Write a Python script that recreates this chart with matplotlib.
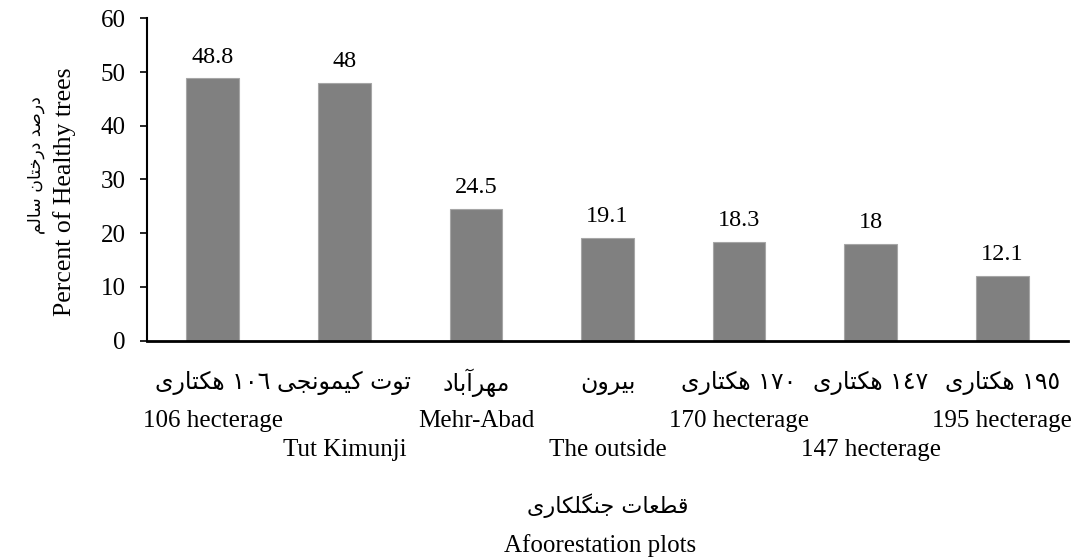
import matplotlib
matplotlib.use("Agg")
import matplotlib.pyplot as plt
import matplotlib.transforms as mtransforms

# ---------------- data ----------------
values = [48.8, 48, 24.5, 19.1, 18.3, 18, 12.1]
value_labels = ["48.8", "48", "24.5", "19.1", "18.3", "18", "12.1"]
labels_fa = ["١٠٦ هکتاری", "توت کیمونجی", "مهرآباد", "بیرون",
             "١٧٠ هکتاری", "١٤٧ هکتاری", "١٩٥ هکتاری"]
labels_en = ["106 hecterage", "Tut Kimunji", "Mehr-Abad", "The outside",
             "170 hecterage", "147 hecterage", "195 hecterage"]
yticks = [0, 10, 20, 30, 40, 50, 60]
ylabel_fa = "درصد درختان سالم"
ylabel_en = "Percent of Healthy trees"
xlabel_fa = "قطعات جنگلکاری"
xlabel_en = "Afoorestation plots"

# ---------------- minimal Persian shaping (presentation forms) ----------------
FORMS = {
    "ه": ("\uFEE9", "\uFEEA", "\uFEEB", "\uFEEC"),
    "ک": ("\uFB8E", "\uFB8F", "\uFB90", "\uFB91"),
    "ت": ("\uFE95", "\uFE96", "\uFE97", "\uFE98"),
    "ا": ("\uFE8D", "\uFE8E"),
    "ر": ("\uFEAD", "\uFEAE"),
    "ی": ("\uFBFC", "\uFBFD", "\uFBFE", "\uFBFF"),
    "و": ("\uFEED", "\uFEEE"),
    "م": ("\uFEE1", "\uFEE2", "\uFEE3", "\uFEE4"),
    "ن": ("\uFEE5", "\uFEE6", "\uFEE7", "\uFEE8"),
    "ج": ("\uFE9D", "\uFE9E", "\uFE9F", "\uFEA0"),
    "آ": ("\uFE81", "\uFE82"),
    "ب": ("\uFE8F", "\uFE90", "\uFE91", "\uFE92"),
    "د": ("\uFEA9", "\uFEAA"),
    "ص": ("\uFEB9", "\uFEBA", "\uFEBB", "\uFEBC"),
    "خ": ("\uFEA5", "\uFEA6", "\uFEA7", "\uFEA8"),
    "س": ("\uFEB1", "\uFEB2", "\uFEB3", "\uFEB4"),
    "ل": ("\uFEDD", "\uFEDE", "\uFEDF", "\uFEE0"),
    "ق": ("\uFED5", "\uFED6", "\uFED7", "\uFED8"),
    "ط": ("\uFEC1", "\uFEC2", "\uFEC3", "\uFEC4"),
    "ع": ("\uFEC9", "\uFECA", "\uFECB", "\uFECC"),
    "گ": ("\uFB92", "\uFB93", "\uFB94", "\uFB95"),
}


def shape_fa(s):
    out = []
    for i, c in enumerate(s):
        if c not in FORMS:
            out.append(c)
            continue
        prev = s[i - 1] if i > 0 else None
        nxt = s[i + 1] if i + 1 < len(s) else None
        jp = prev in FORMS and len(FORMS[prev]) == 4
        jn = nxt in FORMS and len(FORMS[c]) == 4
        f = FORMS[c]
        if jp and jn:
            out.append(f[3])
        elif jp:
            out.append(f[1])
        elif jn:
            out.append(f[2])
        else:
            out.append(f[0])
    # visual order: reverse, keeping digit runs left-to-right
    tokens = []
    for c in out:
        if c.isdigit() and tokens and tokens[-1][0].isdigit():
            tokens[-1] += c
        else:
            tokens.append(c)
    return "".join(reversed(tokens))


SERIF = ["Liberation Serif", "DejaVu Serif"]
FA = ["DejaVu Sans"]

W, H = 1086, 560
fig = plt.figure(figsize=(W / 100, H / 100), dpi=100)
ax = fig.add_axes([147 / W, 1 - 340.7 / H, (1068 - 147) / W, (340.7 - 18.3) / H])

x = list(range(len(values)))
ax.bar(x, values, width=0.4, color="#808080", edgecolor="#a6a6a6", linewidth=0.8)
ax.set_xlim(-0.5, len(values) - 0.5)
ax.set_ylim(0, 60)
ax.set_yticks(yticks)
ax.set_yticklabels([str(t) for t in yticks], family=SERIF, fontsize=18)
ax.set_xticks([])
ax.tick_params(axis="y", direction="out", length=5, width=1.2, pad=10.5)
for s in ("top", "right"):
    ax.spines[s].set_visible(False)
ax.spines["left"].set_linewidth(1.5)
ax.spines["bottom"].set_linewidth(2)

for xi, v, t in zip(x, values, value_labels):
    ax.annotate(t, (xi, v), xytext=(0, 11.5), textcoords="offset points",
                ha="center", va="baseline", family=SERIF, fontsize=17.5)

tr = mtransforms.blended_transform_factory(ax.transData, fig.transFigure)
for i, (fa, en) in enumerate(zip(labels_fa, labels_en)):
    ax.text(i, 1 - 383 / H, shape_fa(fa), transform=tr, ha="center", va="center",
            family=FA, fontsize=17)
    yy = 427 if i % 2 == 0 else 456
    ax.text(i, 1 - yy / H, en, transform=tr, ha="center", va="baseline",
            family=SERIF, fontsize=18)

fig.text(36 / W, 1 - 165 / H, shape_fa(ylabel_fa), rotation=90, ha="center", va="center",
         family=FA, fontsize=12.5)
fig.text(65 / W, 1 - 192 / H, ylabel_en, rotation=90, ha="center", va="center",
         family=SERIF, fontsize=18.5)
fig.text(608 / W, 1 - 506 / H, shape_fa(xlabel_fa), ha="center", va="center",
         family=FA, fontsize=16)
fig.text(600 / W, 1 - 552 / H, xlabel_en, ha="center", va="baseline",
         family=SERIF, fontsize=18)

fig.savefig("out.png", dpi=100, facecolor="white")
